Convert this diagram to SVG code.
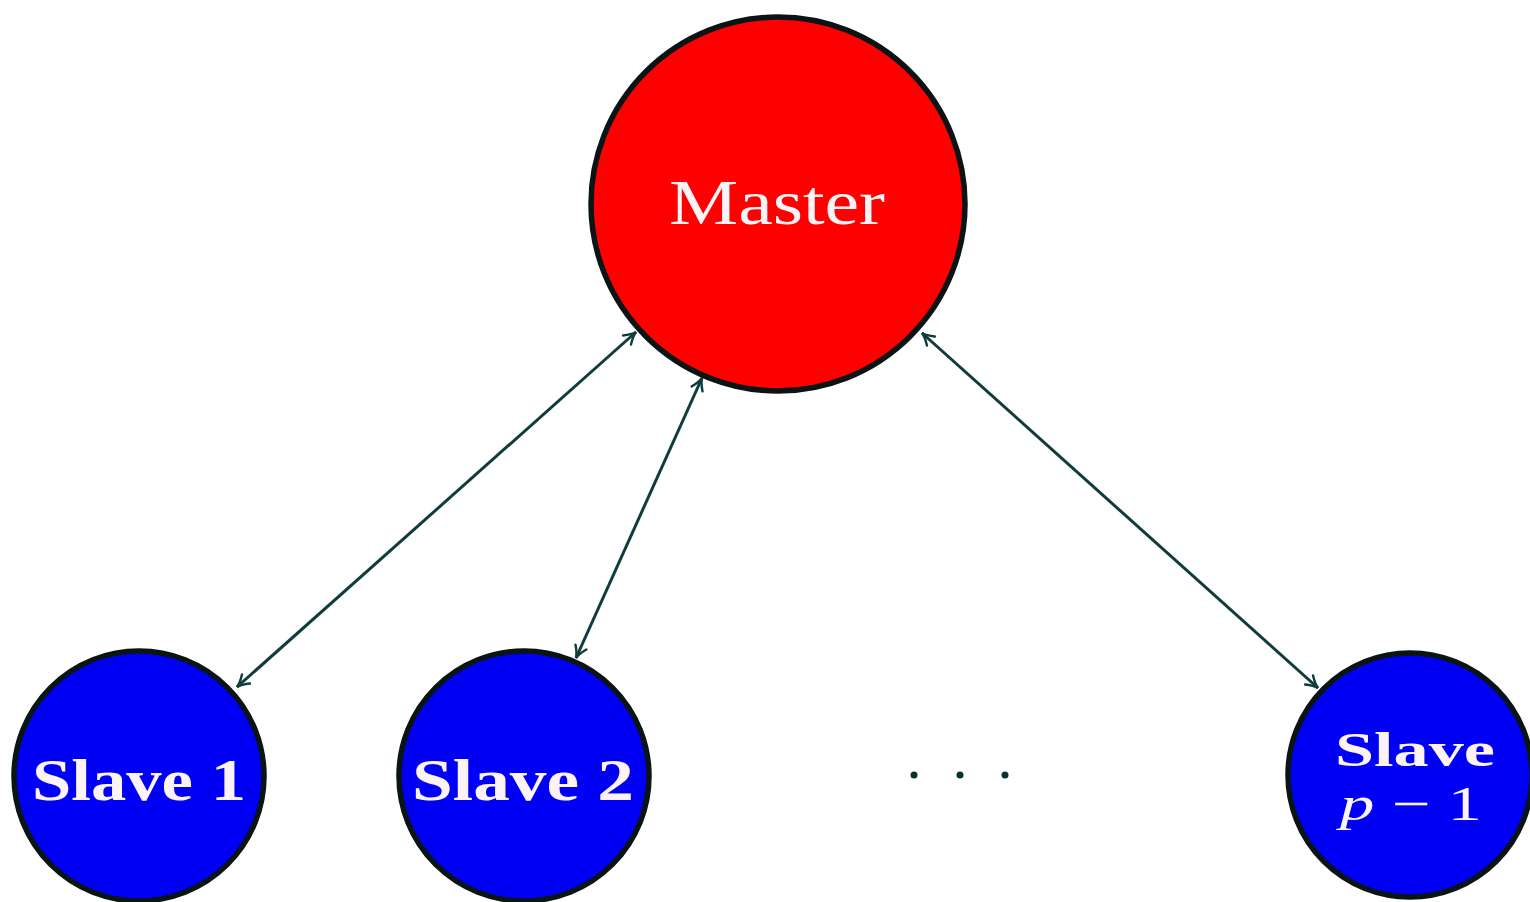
<svg xmlns="http://www.w3.org/2000/svg" width="1530" height="902" viewBox="0 0 1530 902">
<style>
.node{stroke:#0a1414;stroke-width:5.5}
.master{fill:#fe0000}
.slave{fill:#0000f5}
.lbl{font-family:"Liberation Serif","DejaVu Serif",serif;fill:#fbf3f6;text-anchor:middle}
.b{font-weight:bold}
.conn{stroke:#0f3d3d;stroke-width:3;fill:none;marker-start:url(#ah);marker-end:url(#ah)}
.dot{fill:#0a3030}
</style>
<defs>
<marker id="ah" viewBox="-14 -8 16 16" markerWidth="16" markerHeight="16" refX="0" refY="0" orient="auto-start-reverse" markerUnits="userSpaceOnUse">
<path d="M-12,-6 Q-5,-1 0,0 Q-5,1 -12,6" fill="none" stroke="#0f3d3d" stroke-width="2.4" stroke-linecap="round"/>
</marker>
</defs>
<g id="connectors">
<line class="conn" x1="636" y1="332" x2="237" y2="687"/>
<line class="conn" x1="702" y1="378" x2="576" y2="658"/>
<line class="conn" x1="922" y1="333" x2="1318" y2="688"/>
</g>
<g id="master">
<circle class="node master" cx="778" cy="204" r="187"/>
<text class="lbl" x="777" y="224" font-size="64" textLength="216" lengthAdjust="spacingAndGlyphs">Master</text>
</g>
<g id="slave1">
<circle class="node slave" cx="139" cy="776" r="125"/>
<text class="lbl b" x="139" y="800" font-size="60" textLength="214" lengthAdjust="spacingAndGlyphs">Slave 1</text>
</g>
<g id="slave2">
<circle class="node slave" cx="524" cy="776" r="125"/>
<text class="lbl b" x="523" y="800" font-size="60" textLength="222" lengthAdjust="spacingAndGlyphs">Slave 2</text>
</g>
<g id="ellipsis">
<circle class="dot" cx="914" cy="775" r="3.5"/>
<circle class="dot" cx="960" cy="775" r="3.5"/>
<circle class="dot" cx="1005" cy="775" r="3.5"/>
</g>
<g id="slavep">
<circle class="node slave" cx="1410" cy="775" r="122"/>
<text class="lbl b" x="1415" y="766" font-size="48" textLength="160" lengthAdjust="spacingAndGlyphs">Slave</text>
<text class="lbl" x="1411" y="820" font-size="48" textLength="142" lengthAdjust="spacingAndGlyphs"><tspan font-style="italic">p</tspan> − 1</text>
</g>
</svg>
